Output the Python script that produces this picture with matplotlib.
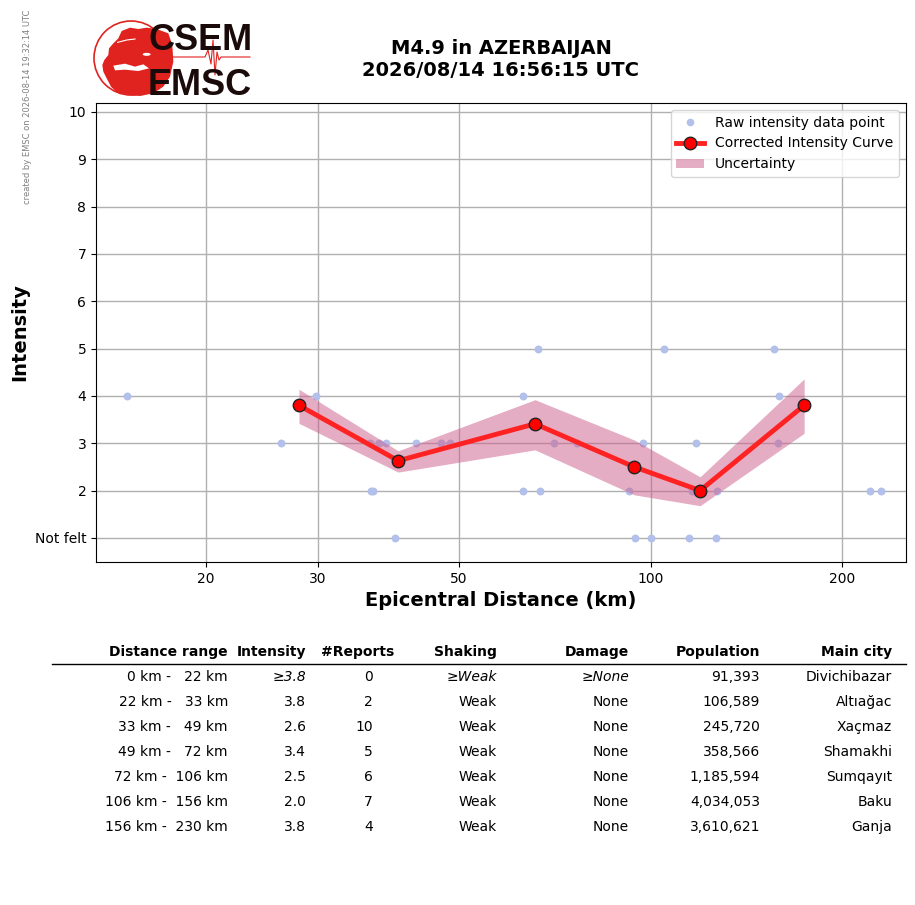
import numpy as np
import matplotlib
matplotlib.use("Agg")
import matplotlib.pyplot as plt
from matplotlib.patches import Circle, Polygon, Patch, Ellipse
from matplotlib.lines import Line2D

# raw felt reports
raw_dist = [15.0, 26.2, 29.8, 36.4, 36.6, 36.2, 37.4, 38.3, 39.7, 42.8, 46.9, 48.4,
            63.1, 66.4, 70.6, 76.7, 63.1, 66.9, 97.1, 92.3, 105.1, 94.6, 100.3,
            118.0, 116.2, 127.3, 114.7, 126.9, 156.5, 159.4, 158.8, 221.6, 229.8]
raw_int = [4, 3, 4, 2, 2, 3, 3, 3, 1, 3, 3, 3,
           4, 5, 3, 3, 2, 2, 3, 2, 5, 1, 1,
           3, 2, 2, 1, 1, 5, 4, 3, 2, 2]

# corrected curve and uncertainty
curve_dist = [28.0, 40.1, 65.8, 94.2, 119.6, 174.3]
curve_int = [3.8, 2.63, 3.41, 2.5, 2.0, 3.8]
band_low = [3.42, 2.39, 2.86, 1.91, 1.68, 3.21]
band_high = [4.14, 2.84, 3.92, 3.07, 2.29, 4.36]

x_ticks = [20, 30, 50, 100, 200]
y_ticks = [1, 2, 3, 4, 5, 6, 7, 8, 9, 10]
y_ticklabels = ["Not felt", "2", "3", "4", "5", "6", "7", "8", "9", "10"]

# summary table
col_names = ["Distance range", "Intensity", "#Reports", "Shaking", "Damage", "Population", "Main city"]
range_lo = [0, 22, 33, 49, 72, 106, 156]
range_hi = [22, 33, 49, 72, 106, 156, 230]
tab_intensity = ["\u22653.8", "3.8", "2.6", "3.4", "2.5", "2.0", "3.8"]
tab_reports = ["0", "2", "10", "5", "6", "7", "4"]
tab_shaking = ["\u2265Weak", "Weak", "Weak", "Weak", "Weak", "Weak", "Weak"]
tab_damage = ["\u2265None", "None", "None", "None", "None", "None", "None"]
tab_population = ["91,393", "106,589", "245,720", "358,566", "1,185,594", "4,034,053", "3,610,621"]
tab_city = ["Divichibazar", "Altıağac", "Xaçmaz", "Shamakhi", "Sumqayıt", "Baku", "Ganja"]

W, H = 915, 905
fig = plt.figure(figsize=(W / 100, H / 100), dpi=100)

ax = fig.add_axes([96 / W, 1 - 562 / H, 810 / W, 459 / H])
ax.set_xscale("log")
ax.scatter(raw_dist, raw_int, s=22, color="#b3c0eb", zorder=2)
ax.fill_between(curve_dist, band_low, band_high, color="#cc5c8a", alpha=0.5, lw=0, zorder=3)
ax.plot(curve_dist, curve_int, color="#ff2222", lw=3.5, marker="o", ms=9,
        mfc="red", mec="#222222", mew=1.0, zorder=4)
ax.set_xlim(13.43, 252)
ax.set_ylim(0.49, 10.19)
ax.set_xticks(x_ticks)
ax.set_xticklabels([str(t) for t in x_ticks])
ax.xaxis.set_minor_locator(matplotlib.ticker.NullLocator())
ax.set_yticks(y_ticks)
ax.set_yticklabels(y_ticklabels)
ax.tick_params(labelsize=10)
ax.grid(True, color="#b0b0b0", lw=1)
ax.set_axisbelow(True)
ax.set_xlabel("Epicentral Distance (km)", fontsize=14, fontweight="bold")
ax.set_ylabel("Intensity", fontsize=14, fontweight="bold")

handles = [
    Line2D([], [], ls="", marker="o", ms=4.5, color="#b3c0eb"),
    Line2D([], [], color="#ff2222", lw=3.5, marker="o", ms=9, mfc="red", mec="#222222"),
    Patch(facecolor="#cc5c8a", alpha=0.5),
]
ax.legend(handles, ["Raw intensity data point", "Corrected Intensity Curve", "Uncertainty"],
          loc="upper right", fontsize=10)

# overlay in pixel coordinates for title, logo and table
ov = fig.add_axes([0, 0, 1, 1], zorder=-1)
ov.set_xlim(0, W)
ov.set_ylim(H, 0)
ov.axis("off")

ov.text(501, 60, "M4.9 in AZERBAIJAN\n2026/08/14 16:56:15 UTC", ha="center", va="center",
        fontsize=14, fontweight="bold", linespacing=1.2)
ov.text(28, 10, "created by EMSC on 2026-08-14 19:32:14 UTC", rotation=90, ha="center", va="top",
        fontsize=6, color="gray")

# logo
red = "#e0231f"
cx, cy, r = 131, 58, 37


def to_px(pts):
    return (np.array(pts, float) - [138, 129]) / 111 * r + [cx, cy]


ov.add_patch(Circle((cx, cy), r, fill=False, ec=red, lw=1.2))
land = [(100, 70), (110, 48), (135, 38), (160, 42), (185, 38), (215, 42), (250, 55), (262, 90),
        (265, 140), (255, 185), (235, 215), (205, 235), (165, 243), (125, 240), (95, 232),
        (78, 215), (65, 190), (55, 170), (52, 150), (58, 135), (70, 120), (72, 100), (85, 85)]
ov.add_patch(Polygon(to_px(land), closed=True, fc=red, ec="none"))
med = [(85, 152), (120, 146), (150, 155), (175, 148), (192, 160), (160, 168), (120, 164), (90, 166)]
ov.add_patch(Polygon(to_px(med), closed=True, fc="white", ec="none"))
bx, by = to_px([(185, 118)])[0]
ov.add_patch(Ellipse((bx, by), 8, 3, fc="white", ec="none"))
gap = to_px([(98, 82), (125, 75), (150, 72)])
ov.plot(gap[:, 0], gap[:, 1], color="white", lw=0.8)
sx = [165, 205, 208, 211, 213, 215, 217, 219, 221, 250]
sy = [57, 57, 50, 64, 40, 75, 52, 60, 57, 57]
ov.plot(sx, sy, color=red, lw=0.8)
ov.text(148, 50, "CSEM", fontsize=26, fontweight="bold", family="Liberation Sans",
        color="#1a0a0a", va="baseline")
ov.text(148, 95, "EMSC", fontsize=26, fontweight="bold", family="Liberation Sans",
        color="#1a0a0a", va="baseline")

# table
hdr_x = [228, 306, 394, 497, 629, 760, 892]
val_x = [228, 306, 373, 497, 629, 760, 892]
for x, name in zip(hdr_x, col_names):
    ov.text(x, 652, name, ha="right", va="center", fontsize=10, fontweight="bold")
ov.plot([52, 906], [664, 664], color="black", lw=1)
for i in range(len(range_lo)):
    y = 677 + 25 * i
    style = "italic" if i == 0 else "normal"
    row = [f"{range_lo[i]} km - {range_hi[i]:>4} km", tab_intensity[i], tab_reports[i],
           tab_shaking[i], tab_damage[i], tab_population[i], tab_city[i]]
    for j, (x, txt) in enumerate(zip(val_x, row)):
        st = style if j in (1, 3, 4) else "normal"
        ov.text(x, y, txt, ha="right", va="center", fontsize=10, style=st)

fig.savefig("out.png", dpi=100)
